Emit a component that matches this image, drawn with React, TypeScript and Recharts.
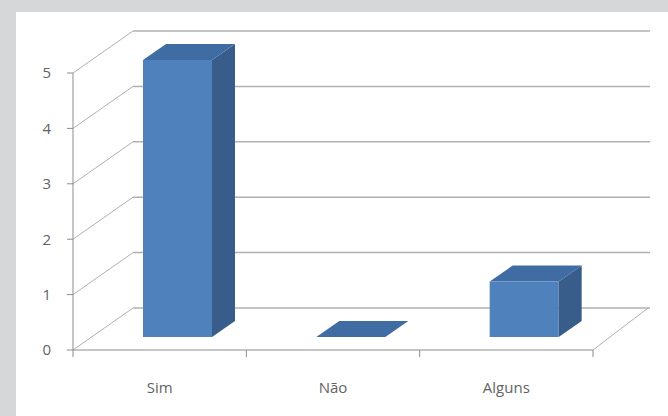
import React from 'react';
import { BarChart, Bar, XAxis, YAxis, CartesianGrid } from 'recharts';

const categories = ['Sim', 'Não', 'Alguns'];
const respostas = [5, 0, 1];
const yTicks = [0, 1, 2, 3, 4, 5];

const data = categories.map((name, i) => ({ name, value: respostas[i] }));

// perspective of the 3D box
const DEPTH_X = 60;
const DEPTH_Y = -42;
const BAR_DX = 18;
const BAR_DY = -13;
const BOX_DX = 23;
const BOX_DY = -16;

const FRONT = '#4f81bd';
const TOP = '#3f6ca3';
const SIDE = '#385d8b';
const FONT = "'Open Sans', Lato, sans-serif";

const GridLine3D = (props: any) => {
  const { x1, y1, x2, index } = props;
  const backY = y1 + DEPTH_Y;
  const isFloor = index === 0 || Math.abs(y1 - 350) < 1;
  return (
    <g key={props.key}>
      <line x1={x1} y1={y1} x2={x1 + DEPTH_X} y2={backY} stroke="#b0b0b0" strokeWidth={1} />
      <line x1={x1 + DEPTH_X} y1={backY} x2={x2 + 57} y2={backY} stroke="#b0b0b0" strokeWidth={1.5} />
      {isFloor && (
        <line x1={x2} y1={y1} x2={x2 + 55} y2={backY} stroke="#b0b0b0" strokeWidth={1} />
      )}
    </g>
  );
};

const Box3D = (props: any) => {
  const { x, y, width, height } = props;
  const fx = x + BAR_DX;
  const fy = y + BAR_DY;
  const top = `${fx},${fy} ${fx + BOX_DX},${fy + BOX_DY} ${fx + width + BOX_DX},${fy + BOX_DY} ${fx + width},${fy}`;
  const side = `${fx + width},${fy} ${fx + width + BOX_DX},${fy + BOX_DY} ${fx + width + BOX_DX},${fy + height + BOX_DY} ${fx + width},${fy + height}`;
  return (
    <g>
      {height > 0 && <rect x={fx} y={fy} width={width} height={height} fill={FRONT} />}
      {height > 0 && <polygon points={side} fill={SIDE} />}
      <polygon points={top} fill={TOP} />
    </g>
  );
};

const CategoryTick = (props: any) => {
  const { x, y, payload, index } = props;
  const half = payload.offset ?? 0;
  return (
    <g>
      <line x1={x - half} y1={y - 8} x2={x - half} y2={y - 1} stroke="#8c8c8c" />
      {index === categories.length - 1 && (
        <line x1={x + half} y1={y - 8} x2={x + half} y2={y - 1} stroke="#8c8c8c" />
      )}
      <text x={x} y={y + 35} textAnchor="middle" fill="#636363" fontSize={15} fontFamily={FONT}>
        {payload.value}
      </text>
    </g>
  );
};

export default function App() {
  return (
    <div style={{ position: 'absolute', left: 0, top: 0, width: 668, height: 416, background: '#d6d7d9' }}>
      <div style={{ position: 'absolute', left: 16, top: 12, right: 0, bottom: 0, background: '#ffffff' }} />
      <div style={{ position: 'absolute', left: 0, top: 0 }}>
        <BarChart
          width={668}
          height={416}
          data={data}
          margin={{ top: 73, right: 75, bottom: 0, left: 23 }}
          barSize={69}
        >
          <CartesianGrid vertical={false} horizontal={GridLine3D} />
          <XAxis
            dataKey="name"
            height={66}
            axisLine={{ stroke: '#8c8c8c' }}
            tickLine={false}
            tick={<CategoryTick />}
            interval={0}
          />
          <YAxis
            width={50}
            domain={[0, 5]}
            ticks={yTicks}
            interval={0}
            axisLine={{ stroke: '#8c8c8c' }}
            tickLine={{ stroke: '#8c8c8c' }}
            tickSize={6}
            tick={{ fill: '#636363', fontSize: 15, fontFamily: FONT, dx: -14 }}
          />
          <Bar dataKey="value" shape={<Box3D />} isAnimationActive={false} />
        </BarChart>
      </div>
    </div>
  );
}
